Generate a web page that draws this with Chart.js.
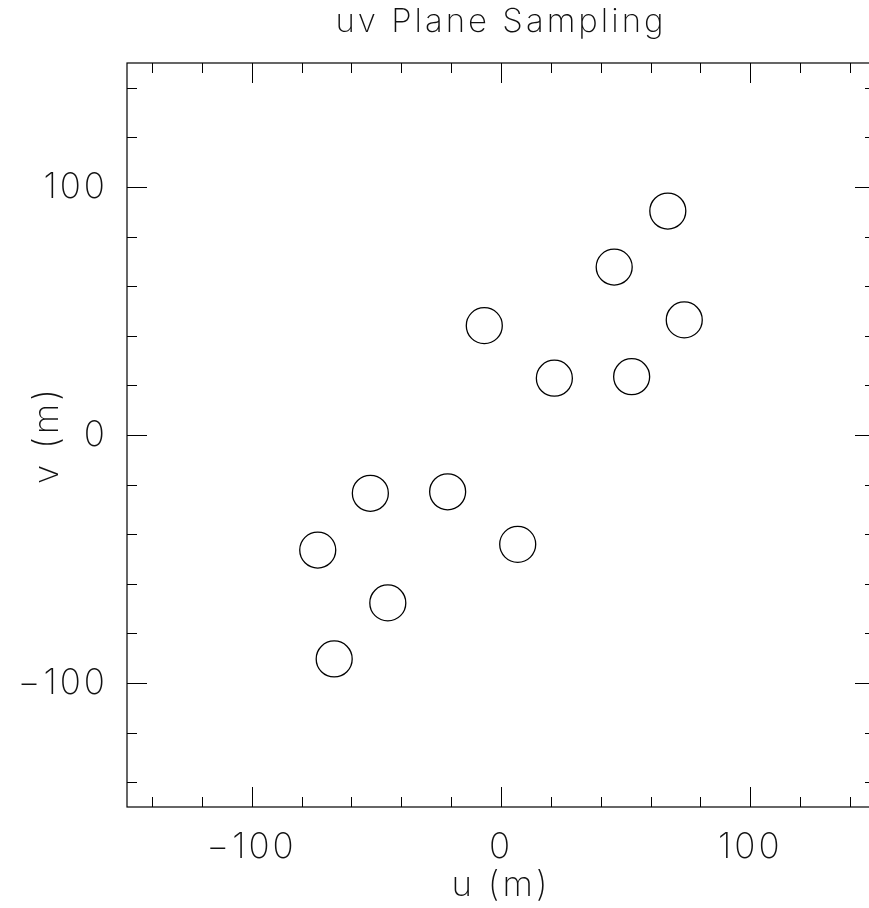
<!DOCTYPE html>
<html><head><meta charset="utf-8">
<script src="https://cdn.jsdelivr.net/npm/chart.js@4"></script>
<style>
html,body{margin:0;padding:0;background:#fff;overflow:hidden;width:869px;height:908px;}
#wrap{position:relative;width:1002px;height:908px;}
</style></head>
<body>
<div id="wrap"><canvas id="chart" width="1002" height="908"></canvas></div>
<script>
// ---- data ----
const uValues = [66.9, 45.4, 73.5, -6.7, 21.4, 52.4, -52.4, -21.4, -73.5, 6.7, -45.4, -66.9];
const vValues = [90.3, 67.7, 46.4, 44.1, 22.9, 23.5, -23.5, -22.9, -46.4, -44.1, -67.7, -90.3];
const majorTicks = [-100, 0, 100];
const minorTicks = [-140, -120, -80, -60, -40, -20, 20, 40, 60, 80, 120, 140];
const titleText = 'uv Plane Sampling';
const xTitle = 'u (m)';
const yTitle = 'v (m)';
const axisMin = -150, axisMax = 150;

const FONT = "'Inter', 'DejaVu Sans', sans-serif";
const INK = '#111';

const fmt = v => (v < 0 ? '\u2212' + Math.abs(v) : String(v));

const spacingPlugin = {
  id: 'spacing',
  beforeInit(chart) { chart.ctx.letterSpacing = '3px'; },
  beforeDraw(chart) { chart.ctx.letterSpacing = '3px'; },
  afterLayout(chart) {
    // centre the title over the plotting area (box spans the whole canvas)
    const t = chart.titleBlock;
    if (t) { t.left = 0; t.right = chart.width; t.width = chart.width; }
  }
};

const framePlugin = {
  id: 'frame',
  afterDraw(chart) {
    const {ctx, chartArea: a, scales: {x, y}} = chart;
    ctx.save();
    ctx.strokeStyle = '#000';
    ctx.lineWidth = 1.2;
    ctx.strokeRect(a.left, a.top, a.right - a.left, a.bottom - a.top);
    ctx.lineWidth = 1;
    const draw = (vals, len) => {
      ctx.beginPath();
      for (const v of vals) {
        const px = Math.round(x.getPixelForValue(v)) + 0.5;
        ctx.moveTo(px, a.bottom); ctx.lineTo(px, a.bottom - len);
        ctx.moveTo(px, a.top); ctx.lineTo(px, a.top + len);
        const py = Math.round(y.getPixelForValue(v)) + 0.5;
        ctx.moveTo(a.left, py); ctx.lineTo(a.left + len, py);
        ctx.moveTo(a.right, py); ctx.lineTo(a.right - len, py);
      }
      ctx.stroke();
    };
    draw(minorTicks, 10);
    draw(majorTicks, 20);
    ctx.restore();
  }
};

new Chart(document.getElementById('chart'), {
  type: 'scatter',
  data: {
    datasets: [{
      data: uValues.map((u, i) => ({x: u, y: vValues[i]})),
      pointStyle: 'circle',
      pointRadius: 18,
      pointHoverRadius: 18,
      borderColor: '#000',
      borderWidth: 1.3,
      backgroundColor: 'rgba(0,0,0,0)'
    }]
  },
  options: {
    responsive: false,
    animation: false,
    events: [],
    layout: {padding: {left: 0, right: 127, top: 0, bottom: 0}},
    plugins: {
      legend: {display: false},
      tooltip: {enabled: false},
      title: {
        display: true,
        text: titleText,
        color: INK,
        font: {family: FONT, size: 33, weight: 200, lineHeight: 1},
        padding: {top: 6, bottom: 24}
      }
    },
    scales: {
      x: {
        type: 'linear', min: axisMin, max: axisMax,
        afterBuildTicks: s => { s.ticks = majorTicks.map(v => ({value: v})); },
        afterFit: s => { s.height = 101; },
        grid: {display: false, drawTicks: false},
        border: {display: false},
        ticks: {color: INK, font: {family: FONT, size: 35, weight: 200, lineHeight: 1}, padding: 23, maxRotation: 0, callback: v => fmt(v)},
        title: {display: true, text: xTitle, color: INK, font: {family: FONT, size: 35, weight: 200, lineHeight: 1}, padding: {top: 0, bottom: 5}}
      },
      y: {
        type: 'linear', min: axisMin, max: axisMax,
        afterBuildTicks: s => { s.ticks = majorTicks.map(v => ({value: v})); },
        afterFit: s => { s.width = 127; },
        grid: {display: false, drawTicks: false},
        border: {display: false},
        ticks: {color: INK, font: {family: FONT, size: 35, weight: 200, lineHeight: 1}, padding: 19, callback: v => fmt(v)},
        title: {display: true, text: yTitle, color: INK, font: {family: FONT, size: 35, weight: 200, lineHeight: 1}, padding: {top: 30, bottom: 0}}
      }
    }
  },
  plugins: [spacingPlugin, framePlugin]
});
</script>
</body></html>
